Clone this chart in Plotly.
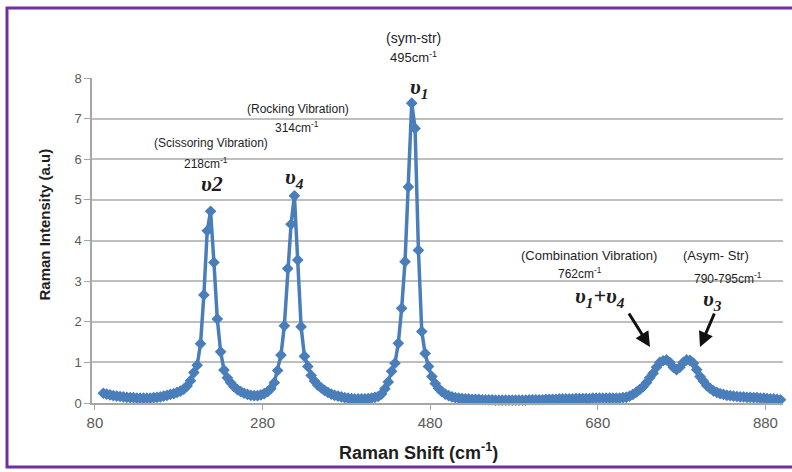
import plotly.graph_objects as go

# Raman shift (cm^-1) and intensity (a.u.)
raman_shift = [
    90, 94, 98, 102, 106, 110, 114, 118, 122, 126,
    130, 134, 138, 142, 146, 150, 154, 158, 162, 166,
    170, 174, 178, 182, 186, 190, 194, 198, 202, 206,
    210, 214, 218, 222, 226, 230, 234, 238, 242, 246,
    250, 254, 258, 262, 266, 270, 274, 278, 282, 286,
    290, 294, 298, 302, 306, 310, 314, 318, 322, 326,
    330, 334, 338, 342, 346, 350, 354, 358, 362, 366,
    370, 374, 378, 382, 386, 390, 394, 398, 402, 406,
    410, 414, 418, 422, 426, 430, 434, 438, 442, 446,
    450, 454, 458, 462, 466, 470, 474, 478, 482, 486,
    490, 494, 498, 502, 506, 510, 514, 518, 522, 526,
    530, 534, 538, 542, 546, 550, 554, 558, 562, 566,
    570, 574, 578, 582, 586, 590, 594, 598, 602, 606,
    610, 614, 618, 622, 626, 630, 634, 638, 642, 646,
    650, 654, 658, 662, 666, 670, 674, 678, 682, 686,
    690, 694, 698, 702, 706, 710, 714, 718, 722, 726,
    730, 734, 738, 742, 746, 750, 754, 758, 762, 766,
    770, 774, 778, 782, 786, 790, 794, 798, 802, 806,
    810, 814, 818, 822, 826, 830, 834, 838, 842, 846,
    850, 854, 858, 862, 866, 870, 874, 878, 882, 886,
    890, 894, 898,
]
intensity = [
    0.24, 0.22, 0.20, 0.18, 0.17, 0.16, 0.15, 0.14, 0.13, 0.13,
    0.12, 0.12, 0.12, 0.12, 0.12, 0.13, 0.14, 0.15, 0.17, 0.19,
    0.21, 0.23, 0.26, 0.29, 0.34, 0.42, 0.55, 0.75, 0.93, 1.46,
    2.66, 4.24, 4.72, 3.46, 2.07, 1.26, 0.81, 0.62, 0.50, 0.40,
    0.33, 0.28, 0.24, 0.21, 0.19, 0.18, 0.18, 0.20, 0.23, 0.28,
    0.36, 0.50, 0.80, 1.18, 1.90, 3.31, 4.40, 5.10, 3.52, 1.88,
    1.15, 0.90, 0.68, 0.54, 0.44, 0.37, 0.31, 0.26, 0.22, 0.19,
    0.17, 0.15, 0.13, 0.12, 0.11, 0.10, 0.10, 0.10, 0.10, 0.11,
    0.12, 0.14, 0.16, 0.22, 0.35, 0.52, 0.78, 0.98, 1.47, 2.33,
    3.48, 5.32, 7.38, 6.76, 3.76, 1.76, 1.22, 0.90, 0.65, 0.48,
    0.36, 0.28, 0.22, 0.18, 0.15, 0.13, 0.12, 0.11, 0.10, 0.10,
    0.09, 0.09, 0.09, 0.08, 0.08, 0.08, 0.08, 0.07, 0.07, 0.07,
    0.07, 0.07, 0.07, 0.07, 0.07, 0.07, 0.07, 0.08, 0.08, 0.08,
    0.08, 0.08, 0.09, 0.09, 0.09, 0.09, 0.10, 0.10, 0.10, 0.10,
    0.10, 0.11, 0.11, 0.11, 0.11, 0.11, 0.12, 0.12, 0.12, 0.12,
    0.12, 0.12, 0.12, 0.12, 0.12, 0.13, 0.14, 0.17, 0.21, 0.27,
    0.33, 0.40, 0.50, 0.62, 0.73, 0.88, 1.00, 1.04, 1.06, 1.00,
    0.88, 0.82, 0.88, 1.00, 1.06, 1.05, 0.98, 0.82, 0.65, 0.54,
    0.43, 0.36, 0.30, 0.26, 0.23, 0.21, 0.19, 0.18, 0.17, 0.16,
    0.15, 0.15, 0.14, 0.14, 0.13, 0.13, 0.12, 0.12, 0.11, 0.10,
    0.10, 0.09, 0.08,
]
assert len(raman_shift) == len(intensity)

x_ticks = [80, 280, 480, 680, 880]
y_ticks = [0, 1, 2, 3, 4, 5, 6, 7, 8]

# plot-area pixel geometry (for placing labels in paper coordinates)
L, R, T, B = 92, 783, 78, 403
def px(x):
    return (x - L) / (R - L)
def py(y):
    return (B - y) / (B - T)

BLUE = "#4A7EBB"
TXT = "#1E1E1E"
SANS = "Liberation Sans, Arial, sans-serif"
SERIF = "Liberation Serif, DejaVu Serif, serif"

fig = go.Figure()
fig.add_trace(go.Scatter(
    x=raman_shift, y=intensity, mode="lines+markers",
    line=dict(color=BLUE, width=3.5),
    marker=dict(symbol="diamond", size=9, color=BLUE),
    showlegend=False, cliponaxis=False,
))

def label(x, y, text, size=13, family=SANS, bold=False):
    t = f"<b>{text}</b>" if bold else text
    fig.add_annotation(x=px(x), y=py(y), xref="paper", yref="paper",
                       text=t, showarrow=False,
                       font=dict(family=family, size=size, color=TXT),
                       xanchor="center", yanchor="middle")

def greek(x, y, text):
    label(x, y, f"<i>{text}</i>", size=22, family=SERIF, bold=True)

label(413, 38, "(sym-str)", 14)
label(413, 57, "495cm<sup>-1</sup>", 13)
greek(419, 88, "υ<sub>1</sub>")
label(298, 109, "(Rocking Vibration)", 12)
label(297, 127, "314cm<sup>-1</sup>", 12)
label(211, 143, "(Scissoring Vibration)", 12)
label(206, 163, "218cm<sup>-1</sup>", 12)
greek(212, 183, "υ2")
greek(294, 178, "υ<sub>4</sub>")
label(589, 255, "(Combination Vibration)", 13)
label(580, 273, "762cm<sup>-1</sup>", 12)
greek(600, 297, "υ<sub>1</sub>+υ<sub>4</sub>")
label(716, 255, "(Asym- Str)", 13)
label(728, 278, "790-795cm<sup>-1</sup>", 12)
greek(712, 300, "υ<sub>3</sub>")

# arrows
for tip_x, tip_y, dx, dy in [(650, 347, -22, -35), (700, 347, 15, -35)]:
    fig.add_annotation(x=px(tip_x), y=py(tip_y), xref="paper", yref="paper",
                       text="", showarrow=True, ax=dx, ay=dy,
                       arrowhead=2, arrowsize=1, arrowwidth=3,
                       arrowcolor="#111111")

# axis titles
fig.add_annotation(x=px(33), y=py(225), xref="paper", yref="paper",
                   text="<b>Raman Intensity (a.u)</b>", textangle=-90,
                   showarrow=False, font=dict(family=SANS, size=15, color=TXT))
fig.add_annotation(x=px(418), y=py(451), xref="paper", yref="paper",
                   text="<b>Raman Shift (cm<sup>-1</sup>)</b>",
                   showarrow=False, yanchor="middle",
                   font=dict(family=SANS, size=18, color=TXT))

# purple frame
fig.add_shape(type="rect", xref="paper", yref="paper",
              x0=px(7), x1=px(805), y0=py(467), y1=py(8),
              line=dict(color="#7030A0", width=3), fillcolor="rgba(0,0,0,0)",
              layer="below")

fig.update_xaxes(range=[76.5, 901], tickvals=x_ticks, showgrid=False,
                 showline=True, linecolor="#A6A6A6", linewidth=1.5,
                 ticks="outside", ticklen=5, tickcolor="#A6A6A6",
                 zeroline=False,
                 tickfont=dict(family=SANS, size=15, color="#595959"))
fig.update_yaxes(range=[0, 8], tickvals=y_ticks, showgrid=True,
                 gridcolor="#BFBFBF", gridwidth=1.5,
                 showline=True, linecolor="#A6A6A6", linewidth=1.5,
                 ticks="outside", ticklen=6, tickcolor="#A6A6A6",
                 zeroline=False,
                 tickfont=dict(family=SANS, size=13, color="#595959"))

fig.update_layout(width=792, height=472,
                  margin=dict(l=L, r=792 - R, t=T, b=472 - B),
                  paper_bgcolor="white", plot_bgcolor="white")

fig.write_html("out.html")
